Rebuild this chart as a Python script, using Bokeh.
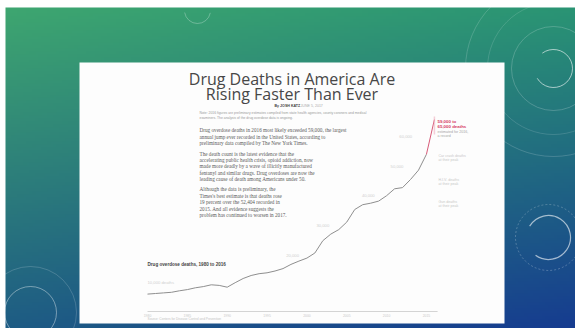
import numpy as np
from bokeh.plotting import figure
from bokeh.models import Range1d
from bokeh.core.properties import value
from bokeh.embed import file_html
from bokeh.resources import INLINE

W, H = 575, 328

# ---- data: US drug overdose deaths per year ----
years = list(range(1980, 2017))
deaths = [5800, 6000, 6200, 6400, 6900, 7300, 7900, 8300, 8900, 8700,
          8100, 9600, 11000, 12000, 12600, 12900, 13500, 14300, 15700, 16800,
          17800, 19500, 23600, 25800, 27300, 29800, 34000, 35600, 36100, 36800,
          38600, 40900, 41300, 44000, 47100, 52400, 64000]
estimate_year = 2016
estimate_low, estimate_high = 59000, 65000
grid_values = [10000, 20000, 30000, 40000, 50000, 60000]
grid_labels = ["10,000 deaths", "20,000", "30,000", "40,000", "50,000", "60,000"]
grid_label_years = [1980, 1997.4, 2001.2, 2006.9, 2010.5, 2011.6]
tick_years = [1980, 1985, 1990, 1995, 2000, 2005, 2010, 2015]

title_lines = ["Drug Deaths in America Are", "Rising Faster Than Ever"]
intro_lines = [
    "Note: 2016 figures are preliminary estimates compiled from state health agencies, county coroners and medical",
    "examiners. The analysis of the drug overdose data is ongoing.",
]
body_paras = [
    ["Drug overdose deaths in 2016 most likely exceeded 59,000, the largest",
     "annual jump ever recorded in the United States, according to",
     "preliminary data compiled by The New York Times."],
    ["The death count is the latest evidence that the",
     "accelerating public health crisis, opioid addiction, now",
     "made more deadly by a wave of illicitly manufactured",
     "fentanyl and similar drugs. Drug overdoses are now the",
     "leading cause of death among Americans under 50."],
    ["Although the data is preliminary, the",
     "Times's best estimate is that deaths rose",
     "19 percent over the 52,404 recorded in",
     "2015. And all evidence suggests the",
     "problem has continued to worsen in 2017."],
]
peak_labels = [["Car crash deaths", "at their peak"],
               ["H.I.V. deaths", "at their peak"],
               ["Gun deaths", "at their peak"]]


def top(t):
    """Convert a distance from the top edge into the page's y coordinate."""
    return H - t


p = figure(width=W, height=H, output_backend="svg", toolbar_location=None,
           x_range=Range1d(0, W), y_range=Range1d(0, H), min_border=0,
           border_fill_color="white", background_fill_color="white")
p.axis.visible = False
p.grid.visible = False
p.outline_line_color = None

# chart scales: years across, deaths up
x0_year, px_per_year = 1980, 7.97
zero_px, px_per_k = 311, 3.0
p.extra_x_ranges["yr"] = Range1d(x0_year - 147 / px_per_year,
                                 x0_year - 147 / px_per_year + W / px_per_year)
p.extra_y_ranges["n"] = Range1d(-(H - zero_px) / px_per_k * 1000,
                                -(H - zero_px) / px_per_k * 1000 + H / px_per_k * 1000)

# ---- slide background gradient ----
ny, nx = 110, 190
v = np.linspace(0, 1, ny)[:, None]   # 0 bottom, 1 top
u = np.linspace(0, 1, nx)[None, :]
TL = np.array([62, 166, 112]); TR = np.array([42, 148, 116])
BL = np.array([30, 92, 132]); BR = np.array([22, 60, 144])
img = ((1 - u)[..., None] * (v[..., None] * TL + (1 - v[..., None]) * BL)
       + u[..., None] * (v[..., None] * TR + (1 - v[..., None]) * BR))
rgba = np.zeros((ny, nx), dtype=np.uint32)
view = rgba.view(dtype=np.uint8).reshape((ny, nx, 4))
view[..., :3] = img.astype(np.uint8)
view[..., 3] = 255
p.image_rgba(image=[rgba], x=5, y=0, dw=W - 5, dh=H - 7)

# decorative rings
p.circle(x=[553, 553, 553], y=[top(68)] * 3, radius=[42, 66, 88],
         fill_alpha=0, line_color="white", line_alpha=[0.25, 0.18, 0.22], line_width=0.8)
p.arc(x=553, y=top(68), radius=19, start_angle=-2.6, end_angle=2.2,
      line_color="white", line_alpha=0.6, line_width=1)
p.arc(x=548, y=top(237), radius=22, start_angle=-2.2, end_angle=2.6,
      line_color="white", line_alpha=0.6, line_width=1.2)
p.circle(x=548, y=top(237), radius=33, fill_alpha=0, line_color="white",
         line_alpha=0.3, line_dash="2 2", line_width=0.8)
p.circle(x=30, y=top(312), radius=[26, 46], fill_alpha=0, line_color="white",
         line_alpha=[0.45, 0.2], line_width=0.9)
p.arc(x=197, y=top(10), radius=13, start_angle=3.3, end_angle=6.1,
      line_color="white", line_alpha=0.35, line_width=0.8)

# white page
p.quad(left=79, right=504, top=top(62), bottom=top(323), fill_color="#fdfdfd",
       line_color=None)

# ---- headline and article text ----
p.text(x=[291.5, 291.5], y=[top(78), top(93)], text=title_lines,
       text_font=value("Open Sans"), text_font_size="16px", text_color="#474747",
       text_align="center", text_baseline="middle")
p.text(x=[274], y=[top(105)], text=["By JOSH KATZ"], text_font=value("Liberation Sans"),
       text_font_size="3.6px", text_font_style="bold", text_color="#444",
       text_baseline="middle")
p.text(x=[300], y=[top(105)], text=["JUNE 5, 2017"], text_font=value("Liberation Sans"),
       text_font_size="3.6px", text_color="#aaa", text_baseline="middle")
p.text(x=[199, 199], y=[top(112), top(117)], text=intro_lines,
       text_font=value("Liberation Sans"), text_font_size="3.4px", text_color="#9a9a9a",
       text_baseline="middle")
line_tops = [[129, 136, 142], [153, 159, 165, 172, 178], [188, 195, 201, 208, 214]]
for para, ys in zip(body_paras, line_tops):
    p.text(x=[199] * len(para), y=[top(t) for t in ys], text=para,
           text_font=value("Liberation Serif"), text_font_size="5.2px",
           text_color="#5a5a5a", text_baseline="middle")

# ---- chart ----
p.text(x=[147], y=[top(264)], text=["Drug overdose deaths, 1980 to 2016"],
       text_font=value("Liberation Sans"), text_font_size="4.6px", text_font_style="bold",
       text_color="#444", text_baseline="middle")

# faint value guides
p.text(x=grid_label_years, y=grid_values, text=grid_labels,
       x_range_name="yr", y_range_name="n", y_offset=[1, 4, 4, 4, 5, 5],
       text_font=value("Liberation Sans"), text_font_size="4.2px", text_color="#d0d0d0",
       text_baseline="middle")

# baseline axis and year labels
p.segment(x0=[1980], y0=[0], x1=[2016.4], y1=[0], x_range_name="yr", y_range_name="n",
          line_color="#cfcfcf", line_width=0.9)
p.text(x=tick_years, y=[0] * len(tick_years), text=[str(y) for y in tick_years],
       x_range_name="yr", y_range_name="n", y_offset=2,
       text_font=value("Liberation Sans"), text_font_size="3.4px", text_color="#cacaca",
       text_align="center", text_baseline="top")
p.text(x=[147], y=[top(318)], text=["Source: Centers for Disease Control and Prevention"],
       text_font=value("Liberation Sans"), text_font_size="3.2px", text_color="#c4c4c4",
       text_baseline="middle")

# the deaths line, final estimated year in red
p.line(x=years[:-1], y=deaths[:-1], x_range_name="yr", y_range_name="n",
       line_color="#8e8e8e", line_width=1.0, line_join="round")
p.line(x=years[-2:], y=deaths[-2:], x_range_name="yr", y_range_name="n",
       line_color="#d85a78", line_width=1.0)
p.segment(x0=[estimate_year], y0=[estimate_low], x1=[estimate_year], y1=[estimate_high],
          x_range_name="yr", y_range_name="n", line_color="#eeb0c0", line_width=1.5,
          line_alpha=0.6)

# annotations to the right of the line
p.text(x=[437, 437], y=[top(121), top(126)], text=["59,000 to", "65,000 deaths"],
       text_font=value("Liberation Sans"), text_font_size="4.4px", text_font_style="bold",
       text_color="#d63c64", text_baseline="middle")
p.text(x=[437, 437], y=[top(131), top(135)], text=["estimated for 2016,", "a record"],
       text_font=value("Liberation Sans"), text_font_size="3.6px", text_color="#a5a5a5",
       text_baseline="middle")
for lines, t in zip(peak_labels, [155, 179, 201]):
    p.text(x=[438, 438], y=[top(t), top(t + 4)], text=lines,
           text_font=value("Liberation Sans"), text_font_size="3.6px",
           text_color="#c8c8c8", text_baseline="middle")

open("out.html", "w").write(file_html(p, INLINE))
